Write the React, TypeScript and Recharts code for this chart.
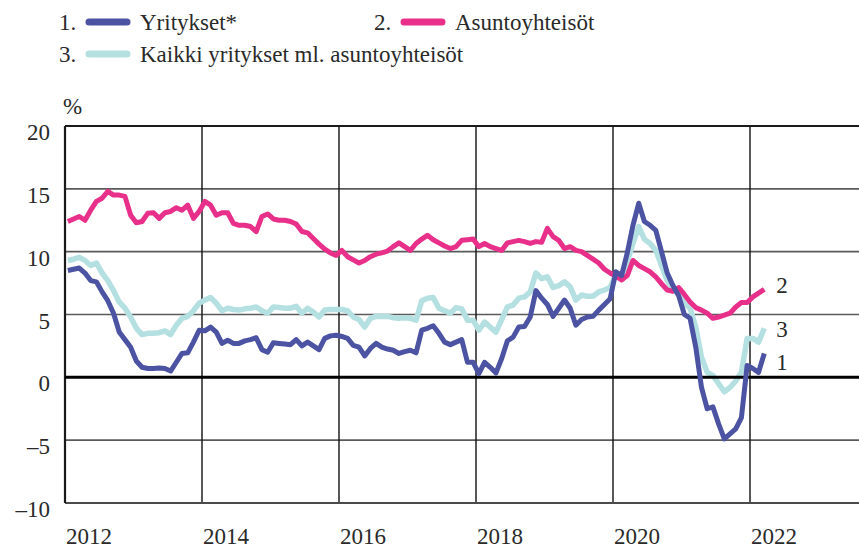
import React from 'react';
import { LineChart, Line, XAxis, YAxis, ReferenceLine } from 'recharts';

// Monthly observations, Jan 2012 – Mar 2022 (12-month growth, %)
const startYear = 2012;

const yritykset = [
  8.5, 8.6, 8.7, 8.3, 7.7, 7.6, 6.8, 6.1, 5.1, 3.6, 3.0, 2.4,
  1.3, 0.8, 0.7, 0.7, 0.75, 0.7, 0.5, 1.2, 1.9, 1.95, 2.8, 3.75,
  3.7, 4.0, 3.6, 2.7, 2.95, 2.7, 2.7, 2.9, 3.0, 3.15, 2.2, 2.0,
  2.75, 2.7, 2.65, 2.6, 3.0, 2.5, 2.8, 2.5, 2.2, 3.1, 3.3, 3.35,
  3.25, 3.1, 2.55, 2.4, 1.7, 2.3, 2.7, 2.4, 2.25, 2.15, 1.9, 2.05,
  2.15, 1.95, 3.75, 3.9, 4.1, 3.5, 2.8, 2.6, 2.8, 3.0, 1.2, 1.2,
  0.3, 1.2, 0.8, 0.35, 1.5, 2.9, 3.2, 4.0, 4.05, 4.8, 6.9, 6.3,
  5.8, 4.85, 5.5, 6.15, 5.5, 4.15, 4.6, 4.8, 4.85, 5.35, 5.8, 6.25,
  8.4, 8.1, 9.9, 12.1, 13.85, 12.4, 12.1, 11.7, 10.0, 8.3, 7.3, 6.5,
  5.0, 4.7, 2.4, -0.8, -2.5, -2.35, -3.7, -4.9, -4.5, -4.1, -3.2, 0.95,
  0.7, 0.4, 1.9,
];

const asuntoyhteisot = [
  12.4, 12.6, 12.8, 12.5, 13.3, 14.0, 14.25, 14.8, 14.5, 14.5, 14.4, 12.9,
  12.3, 12.4, 13.05, 13.1, 12.65, 13.1, 13.2, 13.5, 13.3, 13.7, 12.65, 13.2,
  14.0, 13.7, 12.9, 13.1, 13.1, 12.25, 12.1, 12.1, 12.0, 11.6, 12.8, 13.0,
  12.6, 12.5, 12.5, 12.4, 12.2, 11.6, 11.5, 11.05, 10.6, 10.2, 9.9, 9.7,
  10.1, 9.6, 9.35, 9.1, 9.3, 9.6, 9.8, 9.9, 10.05, 10.4, 10.7, 10.4,
  10.1, 10.65, 11.0, 11.3, 10.95, 10.7, 10.45, 10.25, 10.4, 10.9, 10.95, 11.0,
  10.4, 10.65, 10.4, 10.25, 10.1, 10.7, 10.8, 10.9, 10.8, 10.65, 10.8, 10.75,
  11.85, 11.2, 10.9, 10.25, 10.4, 10.1, 10.0, 9.7, 9.4, 9.1, 8.6, 8.3,
  8.05, 7.75, 8.1, 9.3, 8.9, 8.65, 8.4, 8.0, 7.45, 6.95, 6.85, 7.15,
  6.6, 6.0, 5.55, 5.35, 5.1, 4.7, 4.8, 4.95, 5.1, 5.6, 5.95, 5.95,
  6.4, 6.7, 7.0,
];

const kaikki = [
  9.3, 9.4, 9.55, 9.3, 8.9, 9.1, 8.3, 7.7, 6.9, 6.0, 5.5, 4.8,
  3.9, 3.4, 3.5, 3.5, 3.55, 3.7, 3.4, 4.15, 4.7, 4.85, 5.3, 5.9,
  6.15, 6.35, 5.9, 5.3, 5.5, 5.4, 5.35, 5.45, 5.5, 5.6, 5.3, 5.1,
  5.6, 5.55, 5.5, 5.5, 5.65, 5.1, 5.5, 5.2, 4.8, 5.35, 5.4, 5.4,
  5.4, 5.3, 4.8, 4.6, 4.0, 4.7, 4.85, 4.85, 4.85, 4.75, 4.7, 4.75,
  4.7, 4.55, 6.1, 6.3, 6.35, 5.5, 5.3, 5.1, 5.55, 5.45, 4.55, 4.55,
  3.75, 4.4, 4.0, 3.6, 4.6, 5.6, 5.75, 6.3, 6.4, 6.8, 8.3, 7.85,
  8.0, 7.15, 7.3, 7.6, 7.2, 6.15, 6.55, 6.45, 6.45, 6.8, 6.95, 7.15,
  8.15, 8.05, 9.2, 10.65, 12.0, 11.0, 10.65, 10.1, 8.9, 7.7, 6.95, 6.65,
  5.9, 5.5, 4.0, 1.6, 0.4, 0.15, -0.5, -1.15, -0.8, -0.3, 0.4, 3.1,
  3.1, 2.8, 3.9,
];

const yearTicks = [2012, 2014, 2016, 2018, 2020, 2022];
const valueTicks = [-10, -5, 0, 5, 10, 15, 20];
const seriesNames = ['Yritykset*', 'Asuntoyhteisöt', 'Kaikki yritykset ml. asuntoyhteisöt'];
const seriesNumbers = ['1', '2', '3'];
const unitLabel = '%';

const COLORS = {
  yritykset: '#4b53a2',
  asunto: '#e8308a',
  kaikki: '#b5e0e1',
};

const data = yritykset.map((v, i) => ({
  t: startYear + (i + 0.5) / 12,
  yritykset: v,
  asunto: asuntoyhteisot[i],
  kaikki: kaikki[i],
}));

const FONT = 'Liberation Serif';
const TEXT = '#2a2a2a';
const FS = 23;
const textStyle: React.CSSProperties = { fontFamily: FONT, fontSize: FS };

const XTick = (props: any) => {
  const { x, y, payload } = props;
  return (
    <text x={x + 1} y={y + 33} textAnchor="start" style={textStyle} fill={TEXT}>
      {payload.value}
    </text>
  );
};

const YTick = (props: any) => {
  const { x, y, payload } = props;
  const v = payload.value as number;
  const label = v < 0 ? '\u2013' + Math.abs(v) : String(v);
  return (
    <text x={x - 7} y={y + 14} textAnchor="end" style={textStyle} fill={TEXT}>
      {label}
    </text>
  );
};

const endLabel = (text: string, dy: number) => (props: any) => {
  const { x, y, index } = props;
  if (index !== data.length - 1) return null;
  return (
    <text key={text} x={x + 12} y={y + dy} textAnchor="start" style={textStyle} fill={TEXT}>
      {text}
    </text>
  );
};

const Legend = () => {
  const items = [
    { n: seriesNumbers[0], name: seriesNames[0], color: COLORS.yritykset, x: 59, y: 30 },
    { n: seriesNumbers[1], name: seriesNames[1], color: COLORS.asunto, x: 374, y: 30 },
    { n: seriesNumbers[2], name: seriesNames[2], color: COLORS.kaikki, x: 59, y: 62 },
  ];
  return (
    <svg width={859} height={120} style={{ position: 'absolute', left: 0, top: 0 }}>
      {items.map((it) => (
        <g key={it.n}>
          <text x={it.x} y={it.y} style={textStyle} fill={TEXT}>
            {it.n + '.'}
          </text>
          <line
            x1={it.x + 30}
            x2={it.x + 68}
            y1={it.y - 8}
            y2={it.y - 8}
            stroke={it.color}
            strokeWidth={7}
            strokeLinecap="round"
          />
          <text x={it.x + 81} y={it.y} style={textStyle} fill={TEXT}>
            {it.name}
          </text>
        </g>
      ))}
      <text x={63} y={114} style={textStyle} fill={TEXT}>
        {unitLabel}
      </text>
    </svg>
  );
};

export default function App() {
  const xMax = 2012 + (859 - 65) / 68.5;
  return (
    <div
      style={{
        position: 'absolute',
        left: 0,
        top: 0,
        width: 859,
        height: 548,
        background: '#fff',
        overflow: 'hidden',
        fontFamily: FONT,
      }}
    >
      <LineChart width={859} height={548} data={data} margin={{ top: 126, right: 0, bottom: 0, left: 0 }}>
        <XAxis
          type="number"
          dataKey="t"
          domain={[2012, xMax]}
          ticks={yearTicks}
          tick={<XTick />}
          axisLine={false}
          tickLine={false}
          height={45}
          allowDataOverflow
          interval={0}
        />
        <YAxis
          type="number"
          domain={[-10, 20]}
          ticks={valueTicks}
          tick={<YTick />}
          axisLine={false}
          tickLine={false}
          width={65}
          interval={0}
        />
        {[15, 10, 5, -5].map((v) => (
          <ReferenceLine key={'h' + v} y={v} stroke="#5a5a5a" strokeWidth={1.6} />
        ))}
        {yearTicks.slice(1).map((t) => (
          <ReferenceLine key={'v' + t} x={t} stroke="#111" strokeWidth={1.4} />
        ))}
        <ReferenceLine y={20} stroke="#1a1a1a" strokeWidth={2.2} />
        <ReferenceLine y={-10} stroke="#4a4a4a" strokeWidth={2.2} />
        <ReferenceLine x={2012} stroke="#1a1a1a" strokeWidth={2.2} />
        <Line
          dataKey="kaikki"
          stroke={COLORS.kaikki}
          strokeWidth={5.5}
          dot={false}
          isAnimationActive={false}
          strokeLinejoin="round"
          label={endLabel(seriesNumbers[2], 9)}
        />
        <Line
          dataKey="asunto"
          stroke={COLORS.asunto}
          strokeWidth={5}
          dot={false}
          isAnimationActive={false}
          strokeLinejoin="round"
          label={endLabel(seriesNumbers[1], 4)}
        />
        <ReferenceLine y={0} stroke="#000" strokeWidth={3} />
        <Line
          dataKey="yritykset"
          stroke={COLORS.yritykset}
          strokeWidth={5}
          dot={false}
          isAnimationActive={false}
          strokeLinejoin="round"
          label={endLabel(seriesNumbers[0], 17)}
        />
      </LineChart>
      <Legend />
    </div>
  );
}
